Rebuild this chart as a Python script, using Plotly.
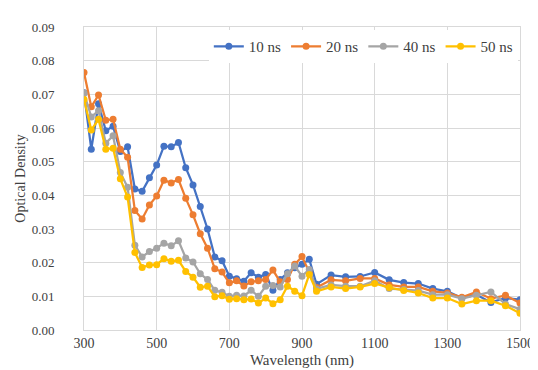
import plotly.graph_objects as go

wavelength = [300, 320, 340, 360, 380, 400, 420, 440, 460, 480, 500, 520, 540, 560, 580, 600,
              620, 640, 660, 680, 700, 720, 740, 760, 780, 800, 820, 840, 860, 880, 900, 920,
              940, 980, 1020, 1060, 1100, 1140, 1180, 1220, 1260, 1300, 1340, 1380, 1420, 1460, 1500]

od_10ns = [0.0705, 0.0537, 0.0672, 0.0592, 0.0605, 0.0530, 0.0544, 0.0419, 0.0412, 0.0452,
           0.0490, 0.0546, 0.0544, 0.0557, 0.0482, 0.0431, 0.0367, 0.0300, 0.0217, 0.0206,
           0.0160, 0.0152, 0.0145, 0.0170, 0.0157, 0.0165, 0.0118, 0.0150, 0.0170, 0.0185,
           0.0195, 0.0210, 0.0136, 0.0163, 0.0158, 0.0159, 0.0171, 0.0149, 0.0141, 0.0138,
           0.0123, 0.0115, 0.0095, 0.0105, 0.0082, 0.0095, 0.0090]

od_20ns = [0.0765, 0.0663, 0.0698, 0.0623, 0.0626, 0.0537, 0.0513, 0.0355, 0.0330, 0.0371,
           0.0398, 0.0445, 0.0437, 0.0447, 0.0391, 0.0342, 0.0286, 0.0243, 0.0182, 0.0172,
           0.0140, 0.0146, 0.0131, 0.0143, 0.0146, 0.0150, 0.0178, 0.0143, 0.0150, 0.0195,
           0.0218, 0.0170, 0.0126, 0.0149, 0.0146, 0.0153, 0.0153, 0.0134, 0.0128, 0.0128,
           0.0115, 0.0110, 0.0097, 0.0113, 0.0093, 0.0103, 0.0080]

od_40ns = [0.0704, 0.0633, 0.0651, 0.0555, 0.0577, 0.0468, 0.0424, 0.0252, 0.0217, 0.0233,
           0.0243, 0.0258, 0.0250, 0.0265, 0.0214, 0.0202, 0.0167, 0.0150, 0.0118, 0.0112,
           0.0100, 0.0103, 0.0101, 0.0118, 0.0100, 0.0130, 0.0132, 0.0128, 0.0167, 0.0190,
           0.0160, 0.0180, 0.0122, 0.0134, 0.0130, 0.0130, 0.0146, 0.0123, 0.0120, 0.0117,
           0.0105, 0.0105, 0.0093, 0.0103, 0.0113, 0.0077, 0.0062]

od_50ns = [0.0685, 0.0594, 0.0626, 0.0537, 0.0540, 0.0449, 0.0395, 0.0230, 0.0186, 0.0193,
           0.0194, 0.0212, 0.0204, 0.0207, 0.0174, 0.0157, 0.0127, 0.0130, 0.0099, 0.0102,
           0.0091, 0.0093, 0.0090, 0.0092, 0.0080, 0.0095, 0.0078, 0.0090, 0.0130, 0.0115,
           0.0102, 0.0165, 0.0115, 0.0128, 0.0123, 0.0128, 0.0138, 0.0126, 0.0117, 0.0110,
           0.0095, 0.0095, 0.0077, 0.0087, 0.0087, 0.0072, 0.0050]

series_names = ["10 ns", "20 ns", "40 ns", "50 ns"]
series_values = [od_10ns, od_20ns, od_40ns, od_50ns]
series_colors = ["#4472C4", "#ED7D31", "#A5A5A5", "#FFC000"]

x_ticks = [300, 500, 700, 900, 1100, 1300, 1500]
y_ticks = [0.00, 0.01, 0.02, 0.03, 0.04, 0.05, 0.06, 0.07, 0.08, 0.09]

font_family = "Liberation Serif"

fig = go.Figure()
for name, vals, col in zip(series_names, series_values, series_colors):
    fig.add_trace(go.Scatter(
        x=wavelength, y=vals, name=name, mode="lines+markers",
        line=dict(color=col, width=2.25),
        marker=dict(color=col, size=7, line=dict(width=0)),
    ))

fig.update_layout(
    width=538, height=370,
    margin=dict(l=75, r=17, t=18, b=48),
    paper_bgcolor="white", plot_bgcolor="white",
    font=dict(family=font_family, size=13, color="#404040"),
    showlegend=True,
    legend=dict(
        orientation="h", x=0.995, xanchor="right", y=0.99, yanchor="top",
        bgcolor="white", font=dict(family=font_family, size=15, color="#404040"),
        itemwidth=30, tracegroupgap=0,
    ),
)
fig.update_xaxes(
    range=[300, 1500], tickvals=x_ticks, ticktext=[str(v) for v in x_ticks],
    showgrid=True, gridcolor="#D9D9D9", gridwidth=1,
    showline=True, linecolor="#D9D9D9", linewidth=1, mirror=True,
    ticks="", zeroline=False,
    tickfont=dict(family=font_family, size=14, color="#404040"),
    title=dict(text="Wavelength (nm)", font=dict(family=font_family, size=15, color="#404040"), standoff=4),
)
fig.update_yaxes(
    range=[0, 0.09], tickvals=y_ticks, ticktext=[f"{v:.2f}" for v in y_ticks],
    showgrid=True, gridcolor="#D9D9D9", gridwidth=1,
    showline=True, linecolor="#D9D9D9", linewidth=1, mirror=True,
    ticks="", zeroline=False, ticklabelstandoff=26,
    tickfont=dict(family=font_family, size=13, color="#404040"),
    title=dict(text="Optical Density", font=dict(family=font_family, size=14, color="#404040"), standoff=2),
)

fig.write_html("out.html")
